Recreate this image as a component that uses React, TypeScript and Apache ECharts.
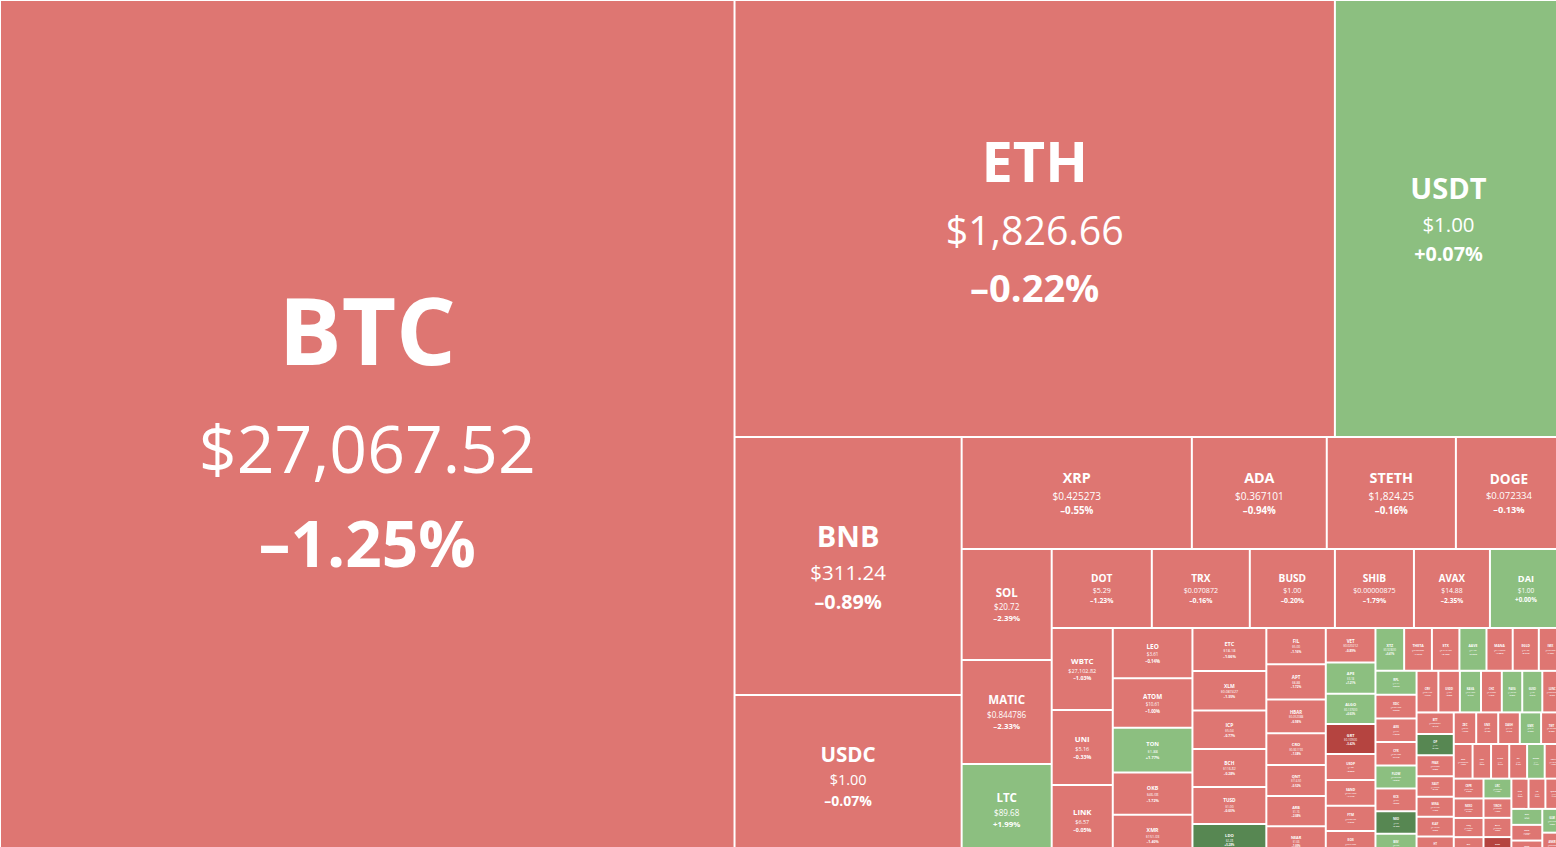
import React, { useEffect, useRef } from "react";
import * as echarts from "echarts";

const CHART_W = 1562;
const CHART_H = 856;
const FONT = "'Open Sans', 'Noto Sans', sans-serif";

const RED = "#de7672";
const GREEN = "#8cbf80";
const DARK_GREEN = "#578752";
const DARK_RED = "#b54440";

// Coins in market-cap order
const coins: string[] = [
  "BTC", "ETH", "USDT", "BNB", "USDC", "XRP", "ADA", "STETH", "DOGE", "SOL",
  "MATIC", "LTC", "DOT", "TRX", "BUSD", "SHIB", "AVAX", "DAI", "WBTC", "UNI",
  "LINK", "LEO", "ATOM", "TON", "OKB", "XMR", "ETC", "XLM", "ICP", "BCH",
  "TUSD", "LDO", "FIL", "APT", "HBAR", "CRO", "QNT", "ARB", "NEAR", "VET",
  "APE", "ALGO", "GRT", "USDP", "SAND", "FTM", "EOS", "XTZ", "THETA", "STX",
  "AAVE", "MANA", "EGLD", "IMX", "RPL", "XDC", "AXS", "CFX", "FLOW", "KCS",
  "NEO", "BSV", "CRV", "USDD", "KAVA", "CHZ", "PAXG", "GUSD", "LUNC", "BTT",
  "OP", "FRAX", "XAUT", "MINA", "KLAY", "HT", "ZEC", "SNX", "DASH", "GMX",
  "TWT", "XEC", "FXS", "CAKE", "GT", "RUNE", "IOTA", "CSPR", "NEXO", "ENJ",
  "ZIL", "LRC", "1INCH", "BAT", "RVN", "CVX", "AR", "QTUM", "DCR", "ROSE",
  "WOO", "GLM", "ANKR",
];

// Price labels
const prices: string[] = [
  "$27,067.52", "$1,826.66", "$1.00", "$311.24", "$1.00", "$0.425273", "$0.367101", "$1,824.25", "$0.072334", "$20.72",
  "$0.844786", "$89.68", "$5.29", "$0.070872", "$1.00", "$0.00000875", "$14.88", "$1.00", "$27,102.82", "$5.16",
  "$6.57", "$3.61", "$10.61", "$1.88", "$46.08", "$151.03", "$18.18", "$0.087427", "$5.04", "$116.82",
  "$1.00", "$2.28", "$5.00", "$8.88", "$0.052088", "$0.061193", "$114.50", "$1.16", "$1.66", "$0.020212",
  "$3.18", "$0.137600", "$0.109500", "$1.00", "$0.561200", "$0.330100", "$0.894200", "$0.923600", "$0.889300", "$0.642100",
  "$64.35", "$0.448600", "$34.22", "$0.684200", "$44.71", "$0.031900", "$6.75", "$0.264200", "$0.739500", "$6.89",
  "$9.58", "$34.60", "$0.874100", "$1.00", "$0.941200", "$0.107000", "$1,967.30", "$1.00", "$0.00008960", "$0.00000051",
  "$1.54", "$0.998300", "$1,963.60", "$0.489100", "$0.199100", "$2.98", "$33.76", "$2.20", "$44.15", "$60.12",
  "$0.901300", "$0.00002780", "$6.71", "$1.61", "$4.23", "$1.41", "$0.188100", "$0.041300", "$0.663500", "$0.310600",
  "$0.020900", "$0.258100", "$0.392900", "$0.223600", "$0.024700", "$4.18", "$6.72", "$2.45", "$16.14", "$0.058200",
  "$0.195800", "$0.218700", "$0.028500",
];

// 24h change, %
const changes: number[] = [
  -1.25, -0.22, 0.07, -0.89, -0.07, -0.55, -0.94, -0.16, -0.13, -2.39,
  -2.33, 1.99, -1.23, -0.16, -0.2, -1.79, -2.35, 0.0, -1.03, -0.33,
  -0.05, -0.14, -1.0, 1.77, -1.72, -1.4, -1.06, -1.35, -0.77, -0.28,
  -0.03, 5.28, -1.16, -1.72, -0.98, -1.38, -0.52, -2.08, -1.05, -0.89,
  1.21, 0.63, -5.42, -0.05, -1.11, -1.94, -0.82, 0.41, -1.31, -2.12,
  0.93, -1.52, -0.71, -1.12, 0.84, -0.63, -1.87, -2.41, 0.57, -0.36,
  6.12, 1.05, -1.64, -0.02, 2.31, -1.21, 0.35, 0.21, -0.93, -0.41,
  5.47, -0.08, -0.44, -1.76, -2.05, -0.27, -1.33, -3.12, -0.97, 0.66,
  -0.58, -1.09, -2.87, -0.71, -0.19, 1.44, -1.52, -2.23, -0.49, -1.68,
  -1.27, 1.92, -1.95, -0.88, -5.63, -0.32, -2.66, -1.14, 0.73, -3.41,
  -0.62, 2.08, -1.47,
];

// Market capitalisation, USD millions
const marketCaps: number[] = [
  524600, 218900, 82800, 48900, 30500, 21500, 12600, 12060, 9910, 8340,
  7820, 6910, 6600, 6460, 5610, 5210, 5010, 4750, 4180, 3820,
  3620, 3340, 3290, 2980, 2800, 2750, 2660, 2430, 2370, 2340,
  2280, 1980, 1800, 1750, 1670, 1580, 1540, 1490, 1480, 1430,
  1300, 1257, 1242, 1077, 1069, 1044, 1035, 1027, 994, 985,
  969, 939, 935, 830, 822, 815, 806, 798, 790, 781,
  772, 764, 756, 745, 733, 720, 708, 695, 683, 671,
  660, 648, 636, 625, 614, 603, 592, 581, 570, 561,
  552, 543, 534, 525, 516, 508, 500, 492, 484, 476,
  468, 460, 452, 447, 440, 433, 426, 419, 412, 405,
  398, 391, 384,
];

// Number of coins in each of the leading strips of the alternating layout,
// and whether the strip runs along the long side of its block.
const stripSizes: number[] = [1, 2, 2, 4, 3, 6, 3];
const stripAlongLongSide: boolean[] = [false, false, false, true, false, true, false];

const totalCap = marketCaps.reduce((a, b) => a + b, 0);

type Size = { w: number; h: number };

function colorFor(ch: number): string {
  if (ch >= 5) return DARK_GREEN;
  if (ch >= 0) return GREEN;
  if (ch <= -5) return DARK_RED;
  return RED;
}

function fmtChange(ch: number): string {
  return (ch >= 0 ? "+" : "–") + Math.abs(ch).toFixed(2) + "%";
}

function leaf(i: number, sizes: Record<string, Size>): any {
  const s = sizes[coins[i]];
  let m: number;
  let h: number;
  if (s) {
    m = Math.min(s.w, s.h);
    h = s.h;
  } else {
    m = Math.sqrt((marketCaps[i] / totalCap) * CHART_W * CHART_H);
    h = m;
  }
  const fs = 0.128 * m;
  const fsP = 0.09 * m;
  const fsC = 0.087 * m;
  const lhN = fs * 1.48;
  const lhP = fsC * 1.5;
  const lhC = fsC * 1.5;
  const block = lhN + lhP + lhC;
  const padTop = Math.max(0, (h - 2 - block) / 2 - fs * 0.03);
  return {
    name: coins[i],
    value: marketCaps[i],
    price: prices[i],
    changeText: fmtChange(changes[i]),
    itemStyle: { color: colorFor(changes[i]), borderWidth: 1, borderColor: "#ffffff", gapWidth: 0 },
    label: {
      padding: [padTop, 0, 0, 0],
      rich: {
        n: { fontSize: fs, lineHeight: lhN, fontWeight: "bold", color: "#ffffff", fontFamily: FONT, align: "center" },
        p: { fontSize: fsP, lineHeight: lhP, fontWeight: "normal", color: "#ffffff", fontFamily: FONT, align: "center" },
        c: { fontSize: fsC, lineHeight: lhC, fontWeight: "bold", color: "#ffffff", fontFamily: FONT, align: "center" },
      },
    },
  };
}

function group(children: any[]): any {
  return {
    name: "",
    children,
    itemStyle: { borderWidth: 0, gapWidth: 0, borderColor: "#ffffff", color: RED },
  };
}

function build(strip: number, start: number, sizes: Record<string, Size>): any[] {
  if (strip >= stripSizes.length) {
    const out: any[] = [];
    for (let i = start; i < coins.length; i++) out.push(leaf(i, sizes));
    return out;
  }
  const n = stripSizes[strip];
  const items: any[] = [];
  for (let i = start; i < start + n; i++) items.push(leaf(i, sizes));
  const rest = group(build(strip + 1, start + n, sizes));
  if (stripAlongLongSide[strip]) return [group(items), rest];
  return [...items, rest];
}

function makeOption(sizes: Record<string, Size>): any {
  return {
    animation: false,
    tooltip: { show: false },
    series: [
      {
        type: "treemap",
        left: 0,
        top: 0,
        width: "100%",
        height: "100%",
        roam: false,
        nodeClick: false,
        sort: false,
        squareRatio: 1.75,
        visibleMin: 0,
        breadcrumb: { show: false },
        itemStyle: { borderWidth: 0, gapWidth: 0, borderColor: "#ffffff" },
        upperLabel: { show: false },
        emphasis: { disabled: true },
        label: {
          show: true,
          position: "inside",
          padding: 0,
          color: "#ffffff",
          fontFamily: FONT,
          formatter: (p: any) => {
            const d = p.data || {};
            if (!d.price) return "";
            return `{n|${d.name}}\n{p|${d.price}}\n{c|${d.changeText}}`;
          },
        },
        data: build(0, 0, sizes),
      },
    ],
  };
}

export default function App() {
  const ref = useRef<HTMLDivElement>(null);
  useEffect(() => {
    if (!ref.current) return;
    const chart = echarts.init(ref.current, null, { renderer: "svg" });
    chart.setOption(makeOption({}));
    const sizes: Record<string, Size> = {};
    try {
      const data = (chart as any).getModel().getSeriesByIndex(0).getData();
      for (let i = 0; i < data.count(); i++) {
        const nm = data.getName(i);
        const lay = data.getItemLayout(i);
        if (nm && lay) sizes[nm] = { w: lay.width, h: lay.height };
      }
    } catch (e) {
      // keep fallback sizes
    }
    chart.setOption(makeOption(sizes), { notMerge: true });
    return () => chart.dispose();
  }, []);
  return (
    <div style={{ position: "fixed", left: 0, top: 0, width: CHART_W, height: CHART_H, overflow: "hidden", background: "#ffffff" }}>
      <div ref={ref} style={{ width: CHART_W, height: CHART_H }} />
    </div>
  );
}
